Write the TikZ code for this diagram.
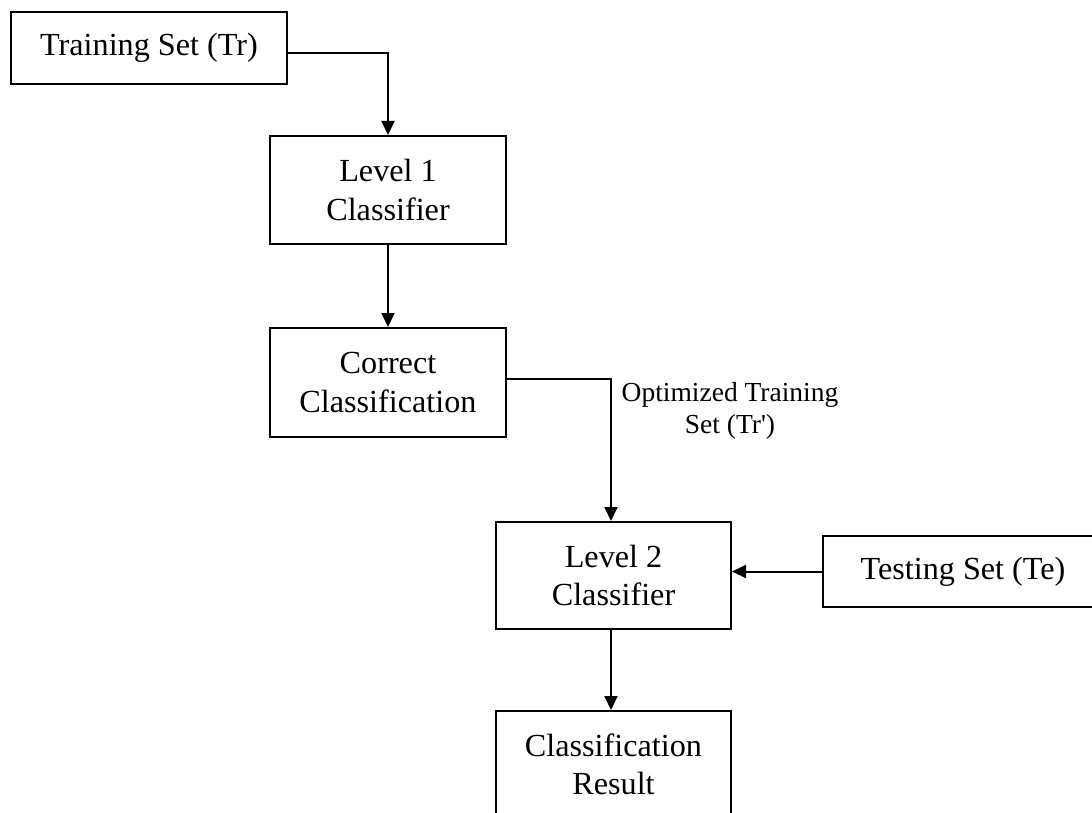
\documentclass[tikz,border=0pt]{standalone}
\usepackage{fontspec}
\setmainfont{Liberation Serif}
\usetikzlibrary{arrows.meta,calc}

\tikzset{
  stage/.style={draw=black, line width=2pt, align=center,
    font=\fontsize{32.2}{38.6}\selectfont, inner sep=0pt},
  flow/.style={line width=2pt, -{Triangle[length=14pt,width=13pt]}},
  note/.style={align=center, font=\fontsize{27.5}{32}\selectfont, inner sep=0pt}
}

\begin{document}
\begin{tikzpicture}[x=1pt,y=-1pt]
  \useasboundingbox (0,0) rectangle (1092,813);
  \clip (0,0) rectangle (1092,813);

  % process boxes
  \node[stage, minimum width=276pt, minimum height=72pt] (train) at (149,48) {Training Set (Tr)};
  \node[stage, minimum width=236pt, minimum height=108pt] (level1) at (388,190) {Level 1\\Classifier};
  \node[stage, minimum width=236pt, minimum height=109pt] (correct) at (388,382.5) {Correct\\Classification};
  \node[stage, minimum width=235pt, minimum height=107pt] (level2) at (613.5,575.5) {Level 2\\Classifier};
  \node[stage, minimum width=280pt, minimum height=71pt] (test) at (963,571.5) {Testing Set (Te)};
  \node[stage, minimum width=235pt, minimum height=107pt] (result) at (613.5,764.5) {Classification\\Result};

  % connector label
  \node[note] (optlabel) at (730,411) {Optimized Training\\Set (Tr\textquotesingle)};

  % connectors
  \draw[flow] ([yshift=-5pt]train.east) -| (level1.north);
  \draw[flow] (level1.south) -- (correct.north);
  \draw[flow] ([yshift=3.5pt]correct.east) -| ([xshift=-2.5pt]level2.north);
  \draw[flow] (test.west) -- (test.west -| level2.east);
  \draw[flow] ([xshift=-2.5pt]level2.south) -- ([xshift=-2.5pt]result.north);
\end{tikzpicture}
\end{document}
